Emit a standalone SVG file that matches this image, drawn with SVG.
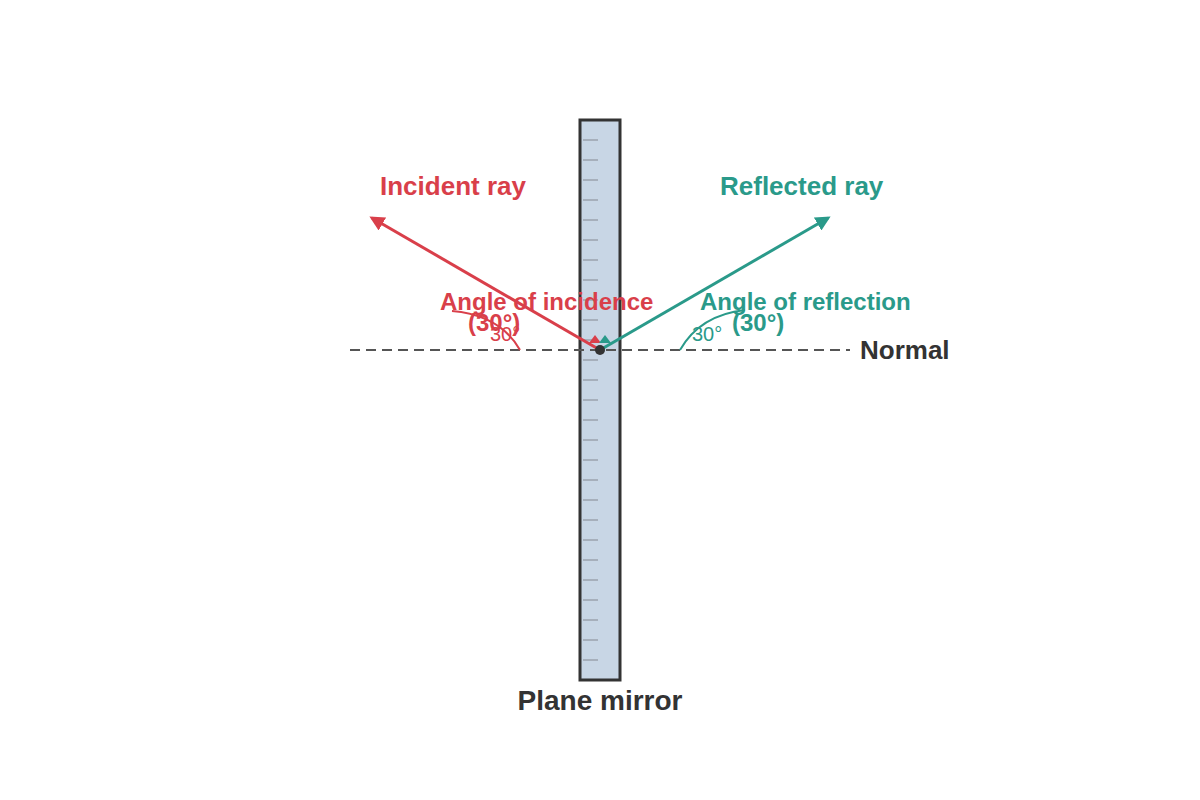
<svg xmlns="http://www.w3.org/2000/svg" width="1200" height="800" viewBox="0 0 1200 800">
<style>
.t{font-family:"Liberation Sans",Arial,sans-serif;font-weight:bold}
.red{fill:#d93f4a}.teal{fill:#2a9a8a}
.tick{stroke:#9aa3ad;stroke-width:1.5}
</style>
<defs>
<marker id="ar" viewBox="0 0 10 10" refX="8" refY="5" markerWidth="5" markerHeight="5" orient="auto"><path d="M0,0L10,5L0,10z" fill="#d93f4a"/></marker>
<marker id="at" viewBox="0 0 10 10" refX="8" refY="5" markerWidth="5" markerHeight="5" orient="auto"><path d="M0,0L10,5L0,10z" fill="#2a9a8a"/></marker>
</defs>
<rect width="1200" height="800" fill="#fff"/>
<g id="mirror">
<rect x="580" y="120" width="40" height="560" fill="#c8d6e5" stroke="#333" stroke-width="3"/>
<g class="tick">
<path d="M583 140h15M583 160h15M583 180h15M583 200h15M583 220h15M583 240h15M583 260h15M583 280h15M583 300h15M583 320h15M583 340h15M583 360h15M583 380h15M583 400h15M583 420h15M583 440h15M583 460h15M583 480h15M583 500h15M583 520h15M583 540h15M583 560h15M583 580h15M583 600h15M583 620h15M583 640h15M583 660h15"/>
</g>
<text class="t" x="600" y="710" text-anchor="middle" font-size="28" fill="#333">Plane mirror</text>
</g>
<g id="normal">
<line x1="350" y1="350" x2="850" y2="350" stroke="#555" stroke-width="2" stroke-dasharray="10,6"/>
<text class="t" x="860" y="359" font-size="26" fill="#333">Normal</text>
</g>
<g id="connectors">
<line x1="600" y1="350" x2="372" y2="218" stroke="#d93f4a" stroke-width="3" marker-end="url(#ar)"/>
<line x1="600" y1="350" x2="828" y2="218" stroke="#2a9a8a" stroke-width="3" marker-end="url(#at)"/>
<path d="M589,343L595,335L601,343z" fill="#d93f4a"/>
<path d="M599,343L605,335L611,343z" fill="#2a9a8a"/>
<circle cx="600" cy="350" r="5" fill="#333"/>
<path d="M452,311Q500,315 520,350" fill="none" stroke="#d93f4a" stroke-width="2"/>
<path d="M680,350Q700,315 745,310" fill="none" stroke="#2a9a8a" stroke-width="2"/>
</g>
<g id="labels">
<text class="t red" x="380" y="195" font-size="26">Incident ray</text>
<text class="t teal" x="720" y="195" font-size="26">Reflected ray</text>
<text class="t red" x="440" y="310" font-size="24">Angle of incidence</text>
<text class="t red" x="468" y="331" font-size="24">(30°)</text>
<text class="t teal" x="700" y="310" font-size="24">Angle of reflection</text>
<text class="t teal" x="732" y="331" font-size="24">(30°)</text>
<text x="490" y="341" font-size="20" fill="#d93f4a" font-family="Liberation Sans,Arial,sans-serif">30°</text>
<text x="692" y="341" font-size="20" fill="#2a9a8a" font-family="Liberation Sans,Arial,sans-serif">30°</text>
</g>
</svg>
